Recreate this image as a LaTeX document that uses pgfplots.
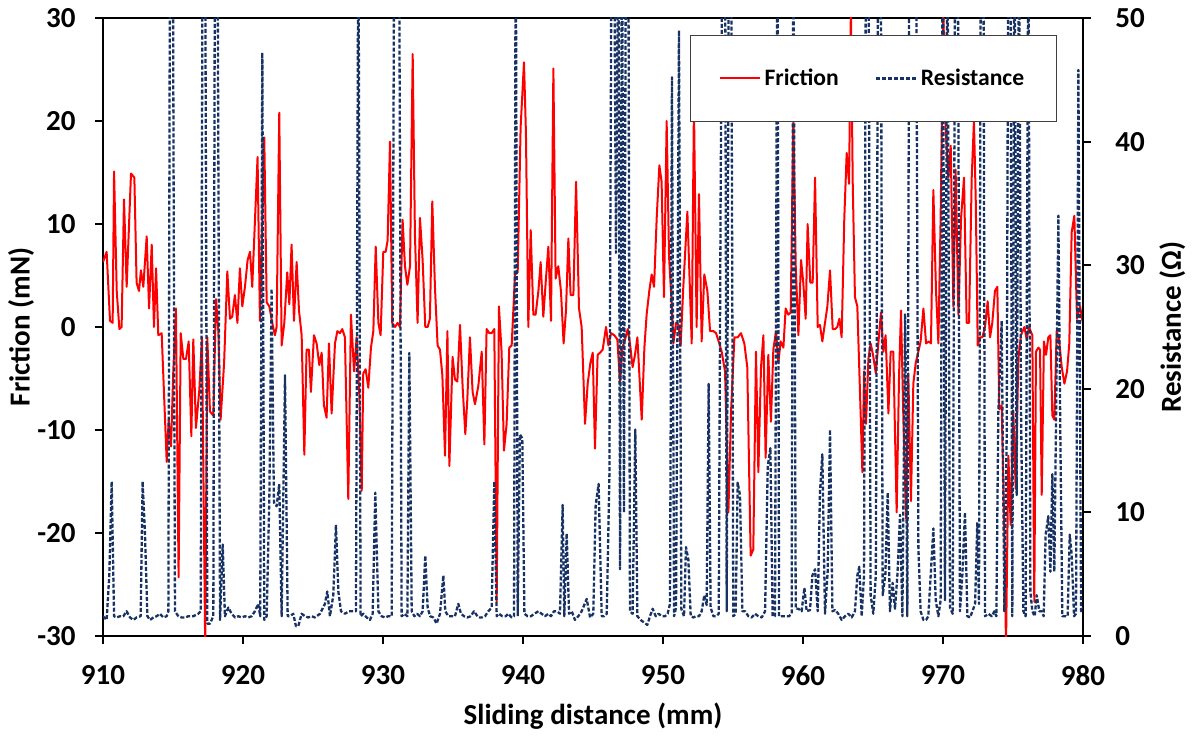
\documentclass[border=0pt]{standalone}
\usepackage{fontspec}
\setmainfont{Carlito}
\usepackage{pgfplots}
\usepackage{pgfplotstable}
\pgfplotsset{compat=1.18}
\definecolor{fricred}{RGB}{255,0,0}
\definecolor{resblue}{RGB}{25,50,100}

\pgfplotstableread{
x y
910.00 6.3
910.26 7.3
910.50 0.6
910.69 0.4
910.79 15.1
910.98 3.5
911.17 -0.2
911.33 0
911.50 12.4
911.69 3.9
912.00 14.9
912.24 14.5
912.40 4.3
912.57 3.5
912.71 5.5
912.88 3.9
913.12 8.8
913.29 1.8
913.48 8.0
913.64 0
913.79 5.7
913.95 -0.8
914.19 -0.6
914.55 -13.1
914.69 -9
914.86 -11.6
915.02 -4.3
915.21 1.8
915.40 -24.3
915.55 -0.6
915.74 -3.1
915.93 -3.1
916.12 -1.4
916.31 -10.6
916.45 -1.2
916.64 -9.8
916.88 -6.1
917.07 -1
917.30 -31
917.45 -1
917.64 -8.2
917.88 -8.6
918.07 2.7
918.24 -0.4
918.40 -9
918.65 -3.5
918.88 5.4
919.07 0.8
919.23 1
919.42 3.1
919.60 0.4
919.78 5.7
919.95 2
920.14 3.9
920.33 6.5
920.50 7.3
920.66 3.9
921.04 16.5
921.21 0.6
921.52 18.4
921.69 2.4
921.88 2
922.09 0.4
922.28 -0.8
922.40 0
922.59 20.8
922.76 -1.8
922.95 0.4
923.16 5.3
923.31 2.2
923.47 8.0
923.64 0.6
923.83 6.3
924.00 1.6
924.19 -0.8
924.38 -12.4
924.54 -2.2
924.71 -2.2
924.85 -6.3
925.07 -0.8
925.26 -1.6
925.45 -3.7
925.62 -2.5
925.78 -7.6
925.97 -8.8
926.14 -1.6
926.33 -8.4
926.57 -1.6
926.74 -0.4
926.92 -0.6
927.09 -0.2
927.28 -1
927.52 -16.7
927.71 1.2
927.93 -4.3
928.12 -1
928.31 -6.7
928.48 -15.9
928.59 -4.5
928.76 -4.1
928.95 -5.9
929.14 -2
929.31 -0.4
929.48 7.8
929.67 0.4
929.83 -0.8
930.02 7.3
930.19 7.3
930.33 8.4
930.50 18
930.66 0.4
930.86 0
931.04 0.4
931.21 0
931.40 10.4
931.57 5.9
931.74 4.1
931.93 5.9
932.12 26.5
932.28 9
932.47 0.4
932.64 10.6
932.83 6.5
933.02 0
933.19 0
933.35 0.8
933.52 12.2
933.71 3.9
933.90 -1.8
934.07 -2.2
934.24 -4.7
934.43 -12.5
934.60 -0.4
934.74 -13.5
934.97 -2.9
935.14 -5.1
935.31 -5.3
935.50 0.2
935.69 -5.9
935.88 -10.4
936.02 -7.1
936.21 -1
936.40 -6.3
936.57 -7.5
936.81 -5.7
937.05 -2.4
937.24 -11.4
937.40 -0.2
937.60 -0.6
937.76 -0.6
937.95 -0.2
938.12 -26.7
938.28 2
938.47 -2.4
938.64 -12
938.83 -9.4
939.02 -2
939.19 -1.8
939.43 5.1
939.62 5.3
939.83 19.4
940.07 25.7
940.21 18.8
940.38 0
940.55 9.4
940.74 1.2
940.90 1.2
941.10 3.5
941.26 6.3
941.45 1
941.64 4.7
941.81 7.8
942.00 0.6
942.17 25.1
942.33 4.7
942.52 5.9
942.71 3.5
942.90 -1.6
943.07 1.6
943.24 8.6
943.40 3.1
943.60 3.1
943.79 14.1
944.00 1.8
944.19 0
944.43 -9.4
944.62 -5.5
944.81 -3.5
944.98 -2.5
945.14 -11.8
945.33 -2.7
945.50 -2.5
945.69 -2.2
945.93 0
946.10 -1.8
946.29 -0.6
946.52 -0.8
946.74 -1.2
946.93 -5.5
947.10 -2
947.29 -1.2
947.48 -0.2
947.64 -1.6
947.83 -3.9
948.00 -2.7
948.17 -1
948.48 -9
948.67 -2
948.83 1.2
949.02 3.5
949.19 5.1
949.36 3.9
949.55 10.6
949.74 15.7
949.90 14.1
950.07 2.9
950.26 20
950.43 6.9
950.60 2.7
950.74 -1.6
950.93 0.4
951.10 0.2
951.26 -1.8
951.45 3.9
951.74 11.2
952.05 -1.6
952.21 21.6
952.40 0
952.57 12.9
952.76 -1.4
952.95 5.1
953.17 3.5
953.36 -0.4
953.60 -0.4
953.79 -0.6
954.02 -1.6
954.19 -2.4
954.43 -4.3
954.67 -18
954.86 -8.2
955.10 -1
955.33 -1
955.57 -0.6
955.81 -1.6
956.02 -3.9
956.26 -22.2
956.45 -21.6
956.64 -2.4
956.81 -14.1
957.00 -3.9
957.17 -0.8
957.33 -12.7
957.52 -2.7
957.71 -9.2
957.88 -2.2
958.07 -0.4
958.24 -3.5
958.40 -1.4
958.60 -2
958.76 1.8
958.95 1.2
959.12 1.4
959.31 20.4
959.48 5.9
959.67 -0.8
959.86 6.5
960.02 4.3
960.19 0.8
960.33 10
960.52 4.3
960.69 4.3
960.86 14.5
961.05 0
961.21 0.2
961.38 -1.4
961.57 0.4
961.74 2
961.93 5.5
962.12 -0.2
962.29 -0.2
962.45 0
962.60 0.8
962.76 -1
962.95 10.6
963.12 16.9
963.29 13.9
963.42 31
963.55 14.1
963.71 2.9
963.88 2
964.07 -6.3
964.24 -14.1
964.36 -4.3
964.50 -9.4
964.67 -3.1
964.83 -1.6
965.00 -2.7
965.20 -4.5
965.38 -1.6
965.57 1.4
965.74 -2.4
965.90 -0.8
966.10 -8.4
966.26 -2.4
966.45 -2.4
966.69 -18
966.86 -4.7
967.00 1.6
967.17 -9
967.36 -18.6
967.52 -4.5
967.71 -16.9
967.88 -5.5
968.05 -3.5
968.24 -2.4
968.40 -1.4
968.60 1.8
968.79 -1.6
968.98 -1.4
969.14 -1.6
969.31 13.3
969.50 3.5
969.67 -1.6
969.83 10.6
970.02 31
970.19 19.2
970.38 14.5
970.55 17.6
970.74 2
970.90 15.3
971.10 1.2
971.29 10.6
971.50 14.5
971.69 0.4
971.86 0.4
972.05 14.5
972.21 20
972.34 12.2
972.48 -1.8
972.64 -1
972.81 -1
973.00 0
973.19 2.5
973.36 -1
973.52 0.4
973.71 3.5
973.88 3.9
974.02 -8
974.19 -7.6
974.38 -20
974.50 -31
974.67 -12.5
974.83 -19.2
975.02 -8.2
975.19 -15.7
975.38 -3.1
975.57 -0.8
975.81 0
975.98 -1.2
976.14 0
976.38 -0.8
976.52 -26.7
976.64 -2.4
976.81 -2
976.93 -2.2
977.05 -16.3
977.21 -1.4
977.36 -2.7
977.52 -1
977.67 -0.8
977.81 -8.6
977.95 -9
978.12 -0.4
978.29 -1.2
978.48 -3.9
978.67 -5.5
978.86 -4.3
979.02 -1.6
979.19 9.2
979.38 10.8
979.57 0.8
979.79 2
980.00 0.3
}\friction

\pgfplotstableread{
x y
910.00 1.6
910.26 1.3
910.45 4.9
910.62 12.5
910.79 1.6
910.98 1.5
911.21 1.6
911.45 1.6
911.69 2
911.93 1.5
912.17 1.3
912.40 1.5
912.69 1.6
912.83 12.5
913.00 8.2
913.17 1.6
913.36 1.3
913.60 1.5
913.83 1.6
914.07 1.8
914.31 1.5
914.55 1.6
914.67 2
914.79 60
914.98 60
915.14 2
915.38 1.6
915.62 1.5
915.86 1.5
916.10 1.6
916.45 1.6
916.81 1.8
916.98 2
917.12 60
917.29 60
917.45 1
917.64 1
917.88 1.6
918.00 60
918.17 60
918.36 1.3
918.55 7.4
918.71 1.6
918.95 2.3
919.19 1.8
919.43 1.5
919.67 1.6
919.90 1.5
920.14 1.6
920.38 1.5
920.62 1.6
920.85 2
921.09 2.6
921.23 1.6
921.38 47.2
921.52 1.3
921.69 1.6
921.88 11.1
922.04 28.1
922.21 10.8
922.40 10.5
922.59 12.3
922.76 1.6
923.00 21.1
923.19 1.6
923.36 1.6
923.59 1.8
923.78 0.8
923.95 0.8
924.19 1.8
924.43 1.6
924.66 1.5
924.90 1.6
925.14 1.5
925.50 1.8
925.85 2.6
926.02 3.6
926.21 1.6
926.45 3.3
926.64 9
926.81 3.6
927.00 2
927.28 1.8
927.57 2
927.88 2
928.07 2
928.24 60
928.40 1.6
928.60 1.8
928.83 1.5
929.07 1.3
929.26 1.8
929.45 11.6
929.67 2
929.90 1.6
930.14 1.5
930.38 1.6
930.62 1.6
930.81 60
930.98 60
931.14 60
931.33 1.6
931.52 1.8
931.74 1.6
931.88 22.9
932.05 2
932.24 1.6
932.43 1.8
932.64 1.6
932.83 2
933.02 6.5
933.19 2.3
933.36 1.6
933.60 1.5
933.83 1
934.07 1.8
934.31 4.9
934.45 2
934.67 1.6
934.90 1.6
935.14 1.6
935.38 2.6
935.57 1.8
935.79 1.6
936.02 1.5
936.26 1.6
936.50 2
936.81 1.5
937.05 1.5
937.29 1.6
937.52 2
937.76 2.3
937.95 12.5
938.12 1.6
938.28 1.8
938.52 1.6
938.76 1.6
938.95 1.8
939.19 1.5
939.36 1.6
939.48 60
939.62 1.6
939.78 16.3
939.95 16
940.10 1.8
940.33 1.6
940.57 1.6
940.81 1.8
941.10 2
941.33 1.8
941.57 1.6
941.81 1.8
942.00 1.6
942.21 2
942.43 2
942.64 1.8
942.83 10.6
942.95 1.6
943.12 8.3
943.29 1.8
943.48 2
943.71 1.3
943.95 1.6
944.19 2
944.55 3
944.79 1.5
945.02 1.8
945.19 10.6
945.40 12.3
945.62 1.6
945.79 1.6
945.98 1.8
946.17 12.8
946.33 60
946.50 60
946.64 31
946.81 60
946.93 5.4
947.07 60
947.21 10
947.36 60
947.52 60
947.64 2
947.83 1.8
948.02 16.7
948.17 1.6
948.40 1.3
948.64 1.1
948.88 0.9
949.07 1.6
949.26 2.2
949.48 1.6
949.69 1.8
949.90 1.6
950.14 1.6
950.33 1.8
950.50 2.6
950.64 45.2
950.79 1.6
950.93 2.3
951.14 49
951.31 2.2
951.50 1.6
951.64 7.2
951.81 6.2
951.98 1.6
952.17 1.5
952.36 1.6
952.57 1.6
952.76 2
952.95 3.3
953.12 2.5
953.26 20.4
953.40 2.3
953.60 1.6
953.79 1.6
953.98 1.8
954.12 36.6
954.26 60
954.43 60
954.55 2
954.71 60
954.86 60
955.02 1.6
955.19 1.8
955.33 12.4
955.50 11.4
955.67 2
955.86 2
956.10 1.6
956.33 1.5
956.57 1.8
956.81 1.6
957.05 1.5
957.29 2
957.48 13.7
957.67 15.2
957.83 1.6
958.00 1.6
958.17 60
958.29 1.6
958.52 1.6
958.76 1.6
959.00 1.6
959.19 1.8
959.31 60
959.48 2.2
959.67 2.2
959.90 2
960.10 3.9
960.26 2
960.50 2.1
960.67 4.9
960.86 5.4
961.05 2
961.21 11.6
961.38 14.7
961.57 1.8
961.76 5.2
961.93 16.7
962.10 2
962.29 2.1
962.52 1.8
962.76 1.3
963.00 1.6
963.24 1.8
963.48 1.5
963.71 2
963.88 4.9
964.02 5.6
964.19 1.6
964.36 4.9
964.50 60
964.67 60
964.83 3.3
965.02 1.8
965.20 4.9
965.38 60
965.55 60
965.69 3.3
965.88 4.9
966.05 11.6
966.21 2
966.40 4.3
966.57 2.2
966.74 4.9
966.93 9.8
967.10 1.6
967.29 26.1
967.45 1.6
967.60 60
967.76 60
967.93 60
968.07 60
968.24 7.2
968.40 2
968.60 1.3
968.79 1.3
968.95 1.6
969.12 4.9
969.31 8.7
969.48 2.9
969.67 1.6
969.83 2.9
969.98 60
970.14 2.9
970.31 60
970.50 2.3
970.69 1.8
970.88 60
971.05 60
971.21 2
971.38 4.9
971.57 10
971.74 1.6
971.93 1.5
972.10 2
972.29 2.6
972.45 9.2
972.57 2.6
972.71 60
972.88 60
973.00 1.6
973.24 1.8
973.48 1.6
973.67 2
973.81 1.6
973.95 18
974.19 25.5
974.38 2
974.55 16.3
974.67 60
974.81 60
974.95 1.6
975.10 60
975.26 11.4
975.43 60
975.57 18.6
975.74 2
975.90 1.6
976.10 60
976.24 3.6
976.38 2
976.55 1.6
976.69 3.3
976.88 2
977.05 2
977.19 1.6
977.33 8.2
977.52 9.7
977.67 5.2
977.81 13.1
977.95 5.2
978.12 22.2
978.24 34
978.38 16.3
978.52 1.6
978.71 1.6
978.90 1.6
979.05 8.2
979.19 6.6
979.36 1.6
979.50 1.8
979.67 45.8
979.86 2
980.00 2.3
}\resistance

\pgfplotsset{
  mybase/.style={
    scale only axis, width=490pt, height=309pt,
    xmin=910, xmax=980,
    tick align=outside,
    major tick length=4pt,
    axis line style={line width=1pt, black},
    major tick style={line width=1pt, black},
    ticklabel style={font=\fontsize{14.5}{17}\selectfont\bfseries, inner sep=0pt},
    /pgf/number format/assume math mode=true,
    /pgf/number format/1000 sep={},
    label style={font=\fontsize{14.5}{17}\selectfont\bfseries},
  }
}

\begin{document}
\begin{tikzpicture}
\begin{axis}[mybase, name=ax,
    ymin=-30, ymax=30,
    xtick={910,920,...,980}, ytick={-30,-20,...,30},
    xtick pos=bottom, ytick pos=left,
    xticklabel shift=10.5pt, yticklabel shift=9.5pt,
    xlabel={Sliding distance (mm)}, ylabel={Friction (mN)},
    xlabel style={at={(axis description cs:0.5,-0.129)}, anchor=center},
    ylabel style={at={(axis description cs:-0.0837,0.5)}, anchor=center},
  ]
  \addplot[fricred, line width=1pt, line join=round] table[x=x,y=y] {\friction};
\end{axis}
\begin{axis}[mybase,
    ymin=0, ymax=50, ytick={0,10,...,50},
    axis x line=none, axis y line*=right,
    yticklabel shift=12pt,
    ylabel={Resistance (Ω)},
    ylabel style={at={(axis description cs:1.091,0.5)}, anchor=center, rotate=0},
    legend columns=2,
    legend style={at={(0.599,0.9725)}, anchor=north west, draw=black!75, line width=0.6pt, fill=white,
      font=\fontsize{11.8}{14}\selectfont\bfseries, inner xsep=14pt, inner ysep=14.5pt,
      /tikz/every even column/.append style={column sep=16pt}},
    legend image code/.code={\draw[#1] (0pt,0pt) -- (20pt,0pt);},
  ]
  \addlegendimage{fricred, line width=1pt}
  \addlegendentry{Friction}
  \addplot[resblue, line width=1.15pt, dash pattern=on 2pt off 1pt, line join=round] table[x=x,y=y] {\resistance};
  \addlegendentry{Resistance}
\end{axis}
\pgfresetboundingbox
\path[use as bounding box] ([xshift=-51.5pt,yshift=-50.5pt]ax.south west) rectangle ([xshift=56.5pt,yshift=9pt]ax.north east);
\end{tikzpicture}
\end{document}
